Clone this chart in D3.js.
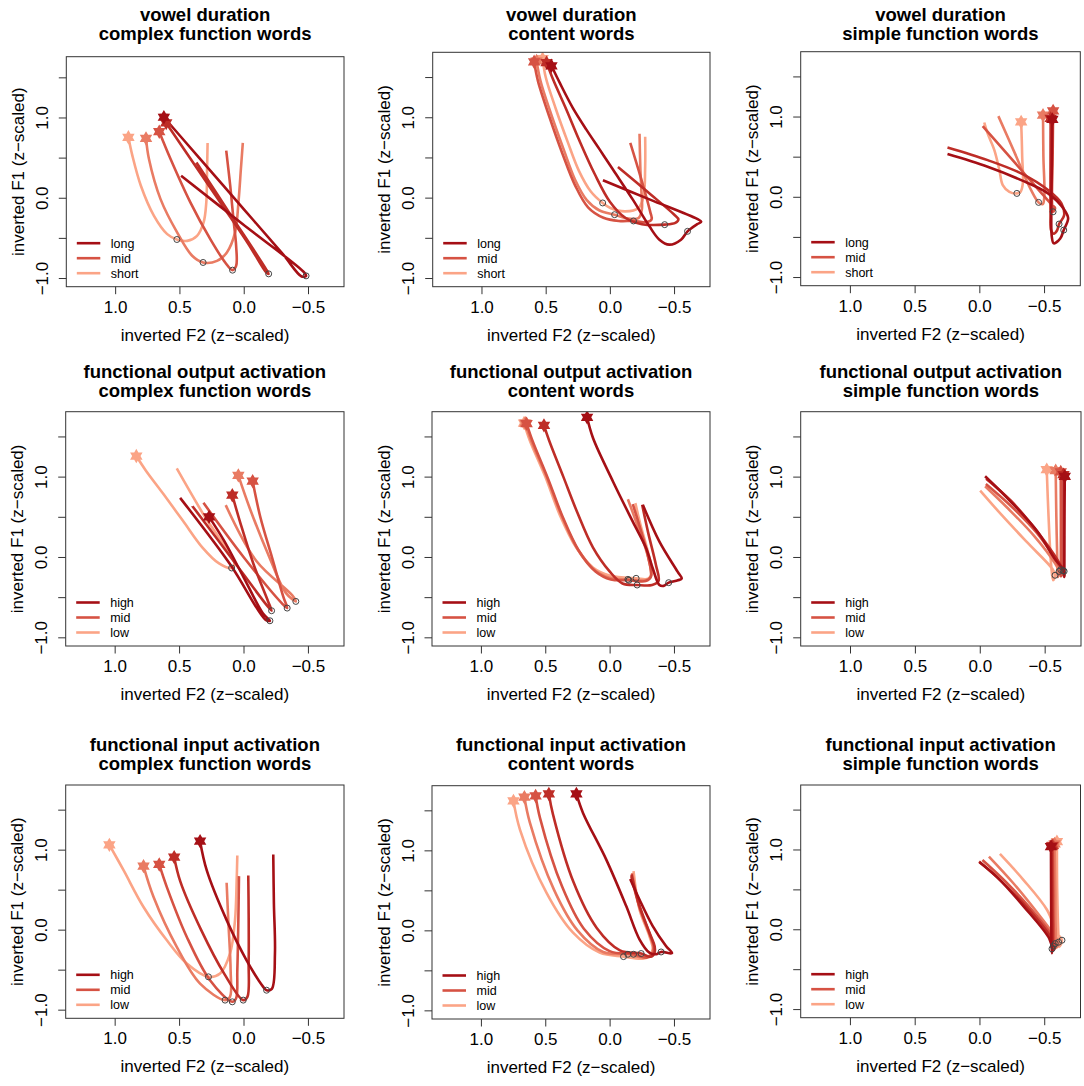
<!DOCTYPE html>
<html><head><meta charset="utf-8">
<script src="https://cdn.jsdelivr.net/npm/d3@7"></script>
<style>body{margin:0;background:#fff}svg{display:block}text{font-family:"Liberation Sans",Arial,Helvetica,sans-serif}</style>
</head><body>
<script>
// ---------- data ----------
const titleLine1 = ["vowel duration","vowel duration","vowel duration",
  "functional output activation","functional output activation","functional output activation",
  "functional input activation","functional input activation","functional input activation"];
const titleLine2 = ["complex function words","content words","simple function words",
  "complex function words","content words","simple function words",
  "complex function words","content words","simple function words"];
const legendLabels = [["long","mid","short"],["long","mid","short"],["long","mid","short"],
  ["high","mid","low"],["high","mid","low"],["high","mid","low"],
  ["high","mid","low"],["high","mid","low"],["high","mid","low"]];
const xTickValues = [1.0, 0.5, 0.0, -0.5];
const yTickValues = [-1.0, -0.5, 0.0, 0.5, 1.0, 1.5];
const yLabelled = [-1.0, 0.0, 1.0];
const xLabel = "inverted F2 (z\u2212scaled)";
const yLabel = "inverted F1 (z\u2212scaled)";

// each trajectory: level (1 = lightest ... 5 = darkest), index of the open-circle point, points [F2, F1]
const vdComplex = [
 {lvl:1, mid:5, pts:[[0.897,0.753],[0.866,0.524],[0.80,0.15],[0.698,-0.225],[0.595,-0.453],[0.52,-0.52],[0.44,-0.537],[0.363,-0.474],[0.312,-0.307],[0.291,-0.057],[0.285,0.357],[0.281,0.683]]},
 {lvl:2, mid:5, pts:[[0.76,0.74],[0.737,0.482],[0.647,-0.017],[0.518,-0.432],[0.401,-0.723],[0.316,-0.806],[0.208,-0.786],[0.131,-0.681],[0.067,-0.432],[0.041,-0.057],[0.022,0.358],[0.007,0.683]]},
 {lvl:3, mid:5, pts:[[0.657,0.823],[0.569,0.483],[0.415,-0.057],[0.26,-0.515],[0.144,-0.806],[0.087,-0.902],[0.059,-0.848],[0.059,-0.6],[0.08,-0.266],[0.105,0.15],[0.136,0.587]]},
 {lvl:4, mid:4, pts:[[0.603,0.932],[0.284,0.18],[-0.035,-0.572],[-0.175,-0.93],[-0.194,-0.948],[-0.17,-0.88],[0.099,-0.22],[0.368,0.44]]},
 {lvl:5, mid:5, pts:[[0.621,1.003],[0.348,0.5],[-0.005,-0.15],[-0.303,-0.7],[-0.45,-0.98],[-0.485,-0.973],[-0.47,-0.93],[0.009,-0.328],[0.487,0.275]]}
];
const vdContent = [
 {lvl:1, mid:6, pts:[[0.524,1.73],[0.50,1.5],[0.42,1.1],[0.33,0.7],[0.24,0.33],[0.15,0.08],[0.056,-0.066],[-0.004,-0.129],[-0.12,-0.171],[-0.223,-0.129],[-0.262,0.016],[-0.275,0.39],[-0.275,0.757]]},
 {lvl:2, mid:7, pts:[[0.571,1.70],[0.54,1.45],[0.46,1.05],[0.36,0.6],[0.27,0.22],[0.18,-0.03],[0.08,-0.16],[-0.037,-0.212],[-0.12,-0.254],[-0.223,-0.254],[-0.249,-0.15],[-0.245,0.1],[-0.237,0.39],[-0.231,0.795]]},
 {lvl:3, mid:8, pts:[[0.59,1.69],[0.56,1.45],[0.47,1.0],[0.37,0.55],[0.27,0.15],[0.17,-0.12],[0.05,-0.25],[-0.07,-0.29],[-0.184,-0.29],[-0.28,-0.305],[-0.325,-0.27],[-0.315,-0.18],[-0.25,0.2],[-0.159,0.682]]},
 {lvl:4, mid:8, pts:[[0.493,1.68],[0.442,1.469],[0.34,1.1],[0.24,0.72],[0.12,0.3],[0.0,-0.05],[-0.12,-0.25],[-0.25,-0.33],[-0.427,-0.336],[-0.51,-0.315],[-0.534,-0.27],[-0.5,-0.21],[-0.30,0.064],[-0.063,0.382]]},
 {lvl:5, mid:11, pts:[[0.455,1.64],[0.39,1.427],[0.29,1.12],[0.183,0.846],[0.08,0.6],[-0.024,0.349],[-0.179,-0.025],[-0.308,-0.357],[-0.386,-0.523],[-0.463,-0.585],[-0.554,-0.523],[-0.605,-0.419],[-0.68,-0.33],[-0.712,-0.3],[-0.68,-0.265],[-0.313,-0.025],[0.054,0.216]]}
];
const vdSimple = [
 {lvl:1, mid:5, pts:[[-0.323,0.934],[-0.328,0.7],[-0.331,0.498],[-0.336,0.167],[-0.318,0.062],[-0.29,0.042],[-0.232,0.062],[-0.181,0.146],[-0.155,0.332],[-0.116,0.582],[-0.064,0.79],[-0.038,0.926]]},
 {lvl:2, mid:4, pts:[[-0.492,1.017],[-0.495,0.5],[-0.502,0.0],[-0.49,-0.09],[-0.458,-0.07],[-0.40,0.083],[-0.274,0.544],[-0.147,1.005]]},
 {lvl:3, mid:3, pts:[[-0.57,1.07],[-0.566,0.45],[-0.562,-0.1],[-0.57,-0.187],[-0.585,-0.14],[-0.56,-0.1],[-0.293,0.39],[-0.026,0.88]]},
 {lvl:4, mid:6, pts:[[-0.551,0.976],[-0.55,0.4],[-0.55,-0.2],[-0.555,-0.42],[-0.575,-0.46],[-0.6,-0.42],[-0.616,-0.34],[-0.655,-0.23],[-0.634,-0.083],[-0.531,0.083],[-0.323,0.291],[-0.064,0.457],[0.246,0.615]]},
 {lvl:5, mid:6, pts:[[-0.564,0.964],[-0.56,0.4],[-0.556,-0.2],[-0.56,-0.5],[-0.575,-0.58],[-0.625,-0.52],[-0.652,-0.415],[-0.686,-0.27],[-0.66,-0.17],[-0.531,0.042],[-0.323,0.208],[-0.064,0.374],[0.246,0.532]]}
];
const foComplex = [
 {lvl:1, mid:6, pts:[[0.832,1.256],[0.76,1.08],[0.62,0.78],[0.47,0.45],[0.32,0.12],[0.19,-0.08],[0.092,-0.137],[0.07,-0.08],[0.3,0.5],[0.518,1.102]]},
 {lvl:2, mid:4, pts:[[0.04,1.015],[-0.05,0.6],[-0.2,0.0],[-0.33,-0.45],[-0.406,-0.553],[-0.38,-0.48],[-0.1,-0.05],[0.138,0.645]]},
 {lvl:3, mid:4, pts:[[-0.071,0.944],[-0.13,0.5],[-0.22,0.0],[-0.31,-0.5],[-0.339,-0.636],[-0.3,-0.58],[0.0,-0.0],[0.311,0.674]]},
 {lvl:4, mid:4, pts:[[0.087,0.769],[0.02,0.4],[-0.08,-0.1],[-0.19,-0.55],[-0.218,-0.669],[-0.18,-0.6],[0.1,0.0],[0.396,0.632]]},
 {lvl:5, mid:4, pts:[[0.267,0.499],[0.15,0.2],[0.0,-0.25],[-0.15,-0.7],[-0.205,-0.794],[-0.17,-0.78],[0.1,-0.1],[0.492,0.736]]}
];
const foContent = [
 {lvl:1, mid:7, pts:[[0.665,1.667],[0.62,1.45],[0.5,1.0],[0.387,0.524],[0.26,0.12],[0.13,-0.13],[0.0,-0.23],[-0.206,-0.266],[-0.3,-0.27],[-0.33,-0.2],[-0.3,0.05],[-0.24,0.4],[-0.2,0.67]]},
 {lvl:2, mid:7, pts:[[0.655,1.665],[0.61,1.45],[0.49,1.0],[0.375,0.52],[0.25,0.1],[0.12,-0.16],[0.0,-0.26],[-0.142,-0.279],[-0.28,-0.29],[-0.32,-0.24],[-0.29,0.05],[-0.21,0.42],[-0.142,0.719]]},
 {lvl:3, mid:7, pts:[[0.645,1.66],[0.60,1.45],[0.48,0.98],[0.365,0.5],[0.24,0.08],[0.11,-0.18],[-0.01,-0.28],[-0.15,-0.29],[-0.28,-0.3],[-0.32,-0.25],[-0.3,0.0],[-0.23,0.4],[-0.18,0.657]]},
 {lvl:4, mid:7, pts:[[0.51,1.638],[0.47,1.45],[0.36,1.0],[0.25,0.55],[0.13,0.12],[0.0,-0.18],[-0.1,-0.33],[-0.214,-0.349],[-0.33,-0.35],[-0.38,-0.3],[-0.36,-0.1],[-0.3,0.3],[-0.253,0.649]]},
 {lvl:5, mid:8, pts:[[0.175,1.738],[0.129,1.48],[-0.026,0.94],[-0.18,0.44],[-0.284,0.108],[-0.335,-0.141],[-0.387,-0.349],[-0.42,-0.36],[-0.459,-0.32],[-0.53,-0.29],[-0.56,-0.27],[-0.528,-0.183],[-0.387,0.191],[-0.258,0.649]]}
];
const foSimple = [
 {lvl:1, mid:4, pts:[[-0.516,1.087],[-0.53,0.5],[-0.55,-0.1],[-0.565,-0.29],[-0.58,-0.228],[-0.56,-0.15],[-0.36,0.19],[-0.17,0.52],[-0.003,0.826]]},
 {lvl:2, mid:4, pts:[[-0.585,1.075],[-0.59,0.5],[-0.598,-0.1],[-0.6,-0.25],[-0.611,-0.18],[-0.58,-0.08],[-0.42,0.26],[-0.22,0.6],[-0.041,0.88]]},
 {lvl:3, mid:4, pts:[[-0.624,1.058],[-0.625,0.5],[-0.625,-0.1],[-0.625,-0.24],[-0.624,-0.158],[-0.59,-0.05],[-0.44,0.3],[-0.23,0.65],[-0.047,0.909]]},
 {lvl:4, mid:4, pts:[[-0.645,1.025],[-0.645,0.5],[-0.645,-0.1],[-0.645,-0.23],[-0.642,-0.17],[-0.6,-0.04],[-0.45,0.3],[-0.24,0.7],[-0.049,0.975]]},
 {lvl:5, mid:4, pts:[[-0.655,1.004],[-0.653,0.5],[-0.652,-0.1],[-0.652,-0.25],[-0.65,-0.178],[-0.573,-0.012],[-0.443,0.32],[-0.236,0.693],[-0.041,1.004]]}
];
const fiComplex = [
 {lvl:1, mid:5, pts:[[1.041,1.06],[0.93,0.74],[0.776,0.283],[0.595,-0.133],[0.44,-0.424],[0.272,-0.59],[0.182,-0.549],[0.105,-0.3],[0.066,0.116],[0.053,0.615],[0.048,0.927]]},
 {lvl:2, mid:4, pts:[[0.776,0.794],[0.698,0.407],[0.518,-0.216],[0.337,-0.674],[0.143,-0.881],[0.105,-0.84],[0.1,-0.507],[0.118,0.116],[0.131,0.586]]},
 {lvl:3, mid:4, pts:[[0.654,0.815],[0.595,0.532],[0.44,-0.091],[0.26,-0.632],[0.087,-0.902],[0.058,-0.861],[0.048,-0.507],[0.04,0.116],[0.035,0.669]]},
 {lvl:4, mid:4, pts:[[0.538,0.906],[0.49,0.6],[0.33,0.0],[0.15,-0.55],[0.002,-0.881],[-0.03,-0.84],[-0.04,-0.4],[-0.04,0.2],[-0.037,0.678]]},
 {lvl:5, mid:5, pts:[[0.337,1.106],[0.285,0.74],[0.13,0.116],[-0.024,-0.383],[-0.153,-0.715],[-0.179,-0.757],[-0.22,-0.74],[-0.244,-0.3],[-0.236,0.324],[-0.231,0.94]]}
];
const fiContent = [
 {lvl:1, mid:5, pts:[[0.747,1.618],[0.696,1.257],[0.49,0.469],[0.284,-0.029],[0.077,-0.278],[-0.108,-0.328],[-0.258,-0.353],[-0.309,-0.32],[-0.335,-0.237],[-0.309,-0.071],[-0.232,0.261],[-0.186,0.739]]},
 {lvl:2, mid:5, pts:[[0.662,1.664],[0.62,1.35],[0.43,0.5],[0.25,0.0],[0.05,-0.27],[-0.142,-0.299],[-0.27,-0.34],[-0.32,-0.31],[-0.34,-0.22],[-0.31,-0.05],[-0.23,0.3],[-0.175,0.718]]},
 {lvl:3, mid:5, pts:[[0.575,1.68],[0.54,1.4],[0.37,0.55],[0.2,0.02],[0.0,-0.26],[-0.186,-0.299],[-0.29,-0.34],[-0.335,-0.3],[-0.345,-0.21],[-0.31,-0.04],[-0.23,0.3],[-0.168,0.676]]},
 {lvl:4, mid:5, pts:[[0.472,1.705],[0.44,1.45],[0.28,0.6],[0.1,0.03],[-0.08,-0.25],[-0.245,-0.29],[-0.32,-0.33],[-0.35,-0.28],[-0.35,-0.2],[-0.31,-0.03],[-0.23,0.32],[-0.17,0.7]]},
 {lvl:5, mid:7, pts:[[0.258,1.705],[0.206,1.465],[0.026,0.884],[-0.129,0.303],[-0.232,-0.112],[-0.309,-0.278],[-0.361,-0.299],[-0.4,-0.27],[-0.485,-0.286],[-0.438,-0.195],[-0.335,0.054],[-0.232,0.386],[-0.16,0.643]]}
];
const fiSimple = [
 {lvl:1, mid:4, pts:[[-0.598,1.098],[-0.6,0.5],[-0.61,-0.1],[-0.615,-0.22],[-0.637,-0.137],[-0.6,-0.05],[-0.521,0.245],[-0.339,0.62],[-0.158,0.944]]},
 {lvl:2, mid:4, pts:[[-0.58,1.069],[-0.585,0.5],[-0.59,-0.1],[-0.595,-0.23],[-0.611,-0.162],[-0.58,-0.08],[-0.45,0.2],[-0.26,0.58],[-0.073,0.911]]},
 {lvl:3, mid:4, pts:[[-0.567,1.052],[-0.57,0.5],[-0.575,-0.1],[-0.58,-0.25],[-0.585,-0.179],[-0.56,-0.08],[-0.4,0.25],[-0.2,0.6],[-0.023,0.869]]},
 {lvl:4, mid:4, pts:[[-0.56,1.044],[-0.562,0.5],[-0.565,-0.1],[-0.568,-0.27],[-0.57,-0.21],[-0.55,-0.1],[-0.38,0.25],[-0.17,0.6],[0.003,0.848]]},
 {lvl:5, mid:4, pts:[[-0.552,1.035],[-0.553,0.5],[-0.555,-0.1],[-0.558,-0.3],[-0.56,-0.245],[-0.54,-0.12],[-0.339,0.29],[-0.132,0.66],[0.0,0.84]]}
];
const panelData = [vdComplex, vdContent, vdSimple, foComplex, foContent, foSimple, fiComplex, fiContent, fiSimple];

// ---------- layout / style ----------
const levelColors = ["#FBA486","#E97B63","#D65243","#BE2D27","#A50F15"];
const boxes = [
 [66.3,56.7,344,286.7],[432.7,52.3,710,286.7],[800.7,51.7,1080.3,285.7],
 [65.7,411.7,344,646],[432,411.7,710,646],[800.7,411.7,1081,646],
 [65.7,785,344,1018.3],[432,785.7,710,1019],[800.7,785,1080.5,1017.7]];
const yTop = [1.757,1.808,1.808,1.808,1.808,1.808,1.808,1.808,1.808];
const titleBase = [[20.5,40],[377.5,397],[750.5,770]];

const svg = d3.select("body").append("svg").attr("width",1084).attr("height",1086);
svg.append("rect").attr("width",1084).attr("height",1086).attr("fill","#fff");

function starPath(r){
  const ri = r*0.58; let p="";
  for(let k=0;k<12;k++){
    const a = -Math.PI/2 + k*Math.PI/6;
    const rr = k%2===0 ? r : ri;
    p += (k===0?"M":"L") + (rr*Math.cos(a)).toFixed(2) + "," + (rr*Math.sin(a)).toFixed(2);
  }
  return p+"Z";
}

panelData.forEach((trajs, i) => {
  const [l,t,r,b] = boxes[i];
  const row = Math.floor(i/3);
  const x = d3.scaleLinear().domain([1.38,-0.78]).range([l,r]);
  const y = d3.scaleLinear().domain([-1.108, yTop[i]]).range([b,t]);
  const g = svg.append("g");
  const cx = (l+r)/2, cy = (t+b)/2;

  // titles
  g.append("text").attr("x",cx).attr("y",titleBase[row][0]).attr("text-anchor","middle")
    .attr("font-size",18.5).attr("font-weight","bold").text(titleLine1[i]);
  g.append("text").attr("x",cx).attr("y",titleBase[row][1]).attr("text-anchor","middle")
    .attr("font-size",18.5).attr("font-weight","bold").text(titleLine2[i]);

  // axes
  const fmt = d3.format(".1f");
  const xa = g.append("g").attr("transform",`translate(0,${b})`)
    .call(d3.axisBottom(x).tickValues(xTickValues).tickSize(7.5).tickFormat(fmt));
  xa.select(".domain").remove();
  xa.selectAll("line").attr("stroke","#333").attr("stroke-width",1);
  xa.selectAll("text").attr("font-size",17).attr("font-family","Liberation Sans, Arial, sans-serif")
    .attr("fill","#000").attr("y",26).attr("dy",null);
  const ya = g.append("g").attr("transform",`translate(${l},0)`)
    .call(d3.axisLeft(y).tickValues(yTickValues).tickSize(7.5)
      .tickFormat(d => yLabelled.includes(d) ? fmt(d) : ""));
  ya.select(".domain").remove();
  ya.selectAll("line").attr("stroke","#333").attr("stroke-width",1);
  ya.selectAll("text").attr("font-size",17).attr("font-family","Liberation Sans, Arial, sans-serif")
    .attr("fill","#000").attr("transform","rotate(-90)").attr("x",0).attr("y",-18.5)
    .attr("dy",null).attr("text-anchor","middle");

  g.append("text").attr("x",cx).attr("y",b+54).attr("text-anchor","middle")
    .attr("font-size",17).text(xLabel);
  g.append("text").attr("transform",`translate(${l-42.5},${cy}) rotate(-90)`)
    .attr("text-anchor","middle").attr("font-size",17).text(yLabel);

  // clip
  const cid = "clip"+i;
  svg.append("clipPath").attr("id",cid).append("rect").attr("x",l).attr("y",t).attr("width",r-l).attr("height",b-t);
  const pg = g.append("g").attr("clip-path",`url(#${cid})`);

  const line = d3.line().x(d=>x(d[0])).y(d=>y(d[1])).curve(d3.curveCatmullRom.alpha(0.5));
  trajs.forEach(tr => {
    pg.append("path").attr("d",line(tr.pts)).attr("fill","none")
      .attr("stroke",levelColors[tr.lvl-1]).attr("stroke-width",2.6)
      .attr("stroke-linejoin","round").attr("stroke-linecap","butt");
  });
  trajs.forEach(tr => {
    const s = tr.pts[0];
    pg.append("path").attr("d",starPath(7.2)).attr("transform",`translate(${x(s[0])},${y(s[1])})`)
      .attr("fill",levelColors[tr.lvl-1]);
  });
  trajs.forEach(tr => {
    const m = tr.pts[tr.mid];
    pg.append("circle").attr("cx",x(m[0])).attr("cy",y(m[1])).attr("r",3)
      .attr("fill","none").attr("stroke","#444").attr("stroke-width",1);
  });

  // box
  g.append("rect").attr("x",l).attr("y",t).attr("width",r-l).attr("height",b-t)
    .attr("fill","none").attr("stroke","#333").attr("stroke-width",1);

  // legend
  const legCols = [levelColors[4], levelColors[2], levelColors[0]];
  const legOff = [43.5, 28.5, 13.5];
  legendLabels[i].forEach((lab, k) => {
    g.append("line").attr("x1",l+10.5).attr("x2",l+34).attr("y1",b-legOff[k]).attr("y2",b-legOff[k])
      .attr("stroke",legCols[k]).attr("stroke-width",2.6);
    g.append("text").attr("x",l+44.5).attr("y",b-legOff[k]).attr("dy","0.35em")
      .attr("font-size",12.5).text(lab);
  });
});
</script>
</body></html>
